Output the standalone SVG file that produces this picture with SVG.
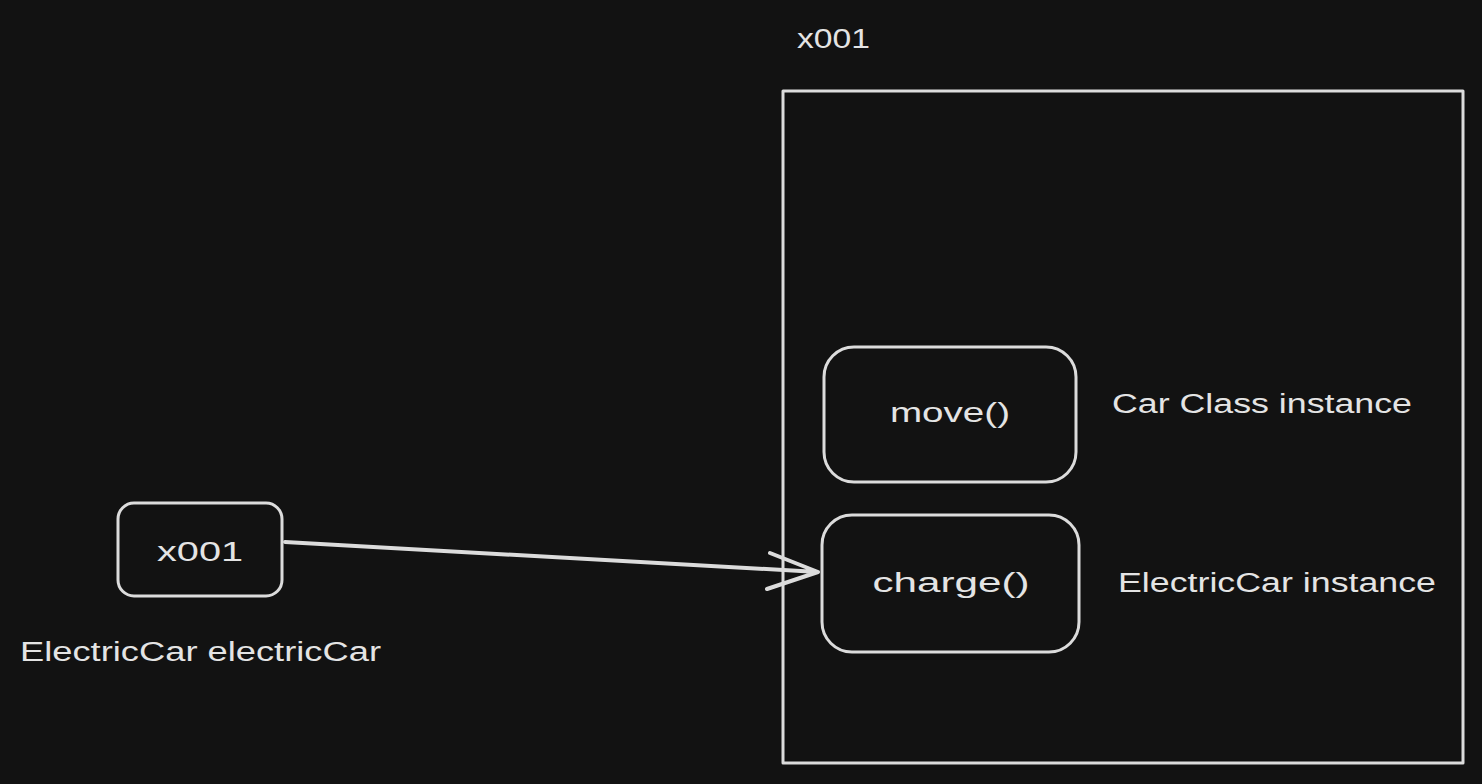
<svg xmlns="http://www.w3.org/2000/svg" width="1482" height="784" viewBox="0 0 1482 784">
<style>
.s{fill:none;stroke:#dcdcdc;stroke-width:3;stroke-linecap:round;stroke-linejoin:round}
.t{fill:#e4e4e4;font-family:"Liberation Sans",Arial,sans-serif;font-size:27px}
</style>
<rect width="1482" height="784" fill="#121212"/>
<g id="heap">
<rect class="s" x="783" y="91" width="680" height="672"/>
<text class="t" x="797" y="48" textLength="73" lengthAdjust="spacingAndGlyphs">x001</text>
</g>
<g id="move">
<rect class="s" x="824" y="347" width="252" height="135" rx="30"/>
<text class="t" x="950" y="422" text-anchor="middle" textLength="120" lengthAdjust="spacingAndGlyphs">move()</text>
</g>
<g id="charge">
<rect class="s" x="822" y="515" width="257" height="137" rx="30"/>
<text class="t" x="951" y="592" text-anchor="middle" textLength="157" lengthAdjust="spacingAndGlyphs">charge()</text>
</g>
<g id="carLabel">
<text class="t" x="1112" y="413" textLength="300" lengthAdjust="spacingAndGlyphs">Car Class instance</text>
</g>
<g id="ecLabel">
<text class="t" x="1118" y="592" textLength="318" lengthAdjust="spacingAndGlyphs">ElectricCar instance</text>
</g>
<g id="ref">
<rect class="s" x="118" y="503" width="164" height="93" rx="16"/>
<text class="t" x="200" y="561" text-anchor="middle" textLength="86" lengthAdjust="spacingAndGlyphs">x001</text>
</g>
<g id="refLabel">
<text class="t" x="20" y="661" textLength="361" lengthAdjust="spacingAndGlyphs">ElectricCar electricCar</text>
</g>
<g id="connectors">
<path class="s" style="stroke-width:4" d="M285 542 L818 572 M770 553 L818 572 L767 589"/>
</g>
</svg>
